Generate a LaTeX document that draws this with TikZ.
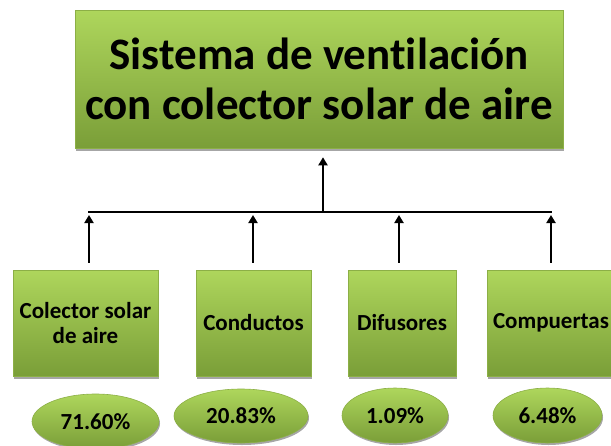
\documentclass[tikz,border=0pt]{standalone}
\usepackage{fontspec}
\setmainfont{Carlito}[Ligatures=NoCommon]
\usepackage{tikz}
\usetikzlibrary{shapes.geometric, arrows.meta, shadows}
\definecolor{grtop}{RGB}{174,214,92}
\definecolor{grbot}{RGB}{122,158,56}
\definecolor{grline}{RGB}{140,175,70}
\definecolor{mydark}{RGB}{0,0,0}
\tikzset{
  block/.style={rectangle, draw=grline, top color=grtop, bottom color=grbot,
    align=center, line width=0.6pt, font=\bfseries\fontsize{23}{25}\selectfont,
    drop shadow={shadow xshift=1pt, shadow yshift=-3pt, opacity=0.35, fill=black}},
  pct/.style={ellipse, draw=grline, top color=grtop, bottom color=grbot,
    inner sep=0pt, line width=0.6pt, font=\bfseries\fontsize{23}{25}\selectfont,
    drop shadow={shadow xshift=1pt, shadow yshift=-2pt, opacity=0.35, fill=black}},
  arrow/.style={-{Triangle[length=8pt, width=9pt]}, line width=2.5pt, color=mydark},
  line/.style={line width=2.5pt, color=mydark}
}

\begin{document}
\begin{tikzpicture}[x=1pt, y=-1pt]
    \clip (0,0) rectangle (611,445);
    \useasboundingbox (0,0) rectangle (611,445);
    % main box
    \node[block, minimum width=488pt, minimum height=138pt,
      font=\bfseries\fontsize{45}{50}\selectfont] (sys) at (319,79)
      {Sistema de ventilación\\con colector solar de aire};
    % parts
    \node[block, minimum width=145pt, minimum height=106pt] (b1) at (85.5,323) {Colector solar\\de aire};
    \node[block, minimum width=115pt, minimum height=106pt] (b2) at (253.5,323) {Conductos};
    \node[block, minimum width=108pt, minimum height=106pt] (b3) at (402,323) {Difusores};
    \node[block, minimum width=128pt, minimum height=106pt] (b4) at (551,323) {Compuertas};
    % shares
    \node[pct, minimum width=127pt, minimum height=55pt] (e1) at (95.5,421.5) {71.60\%};
    \node[pct, minimum width=134pt, minimum height=54pt] (e2) at (241,416) {20.83\%};
    \node[pct, minimum width=106pt, minimum height=55pt] (e3) at (395,415.5) {1.09\%};
    \node[pct, minimum width=109pt, minimum height=55pt] (e4) at (547.5,415.5) {6.48\%};
    % bus
    \coordinate (j1) at (89,212);
    \coordinate (j2) at (253,212);
    \coordinate (j3) at (399,212);
    \coordinate (j4) at (551,212);
    \coordinate (jm) at (323,212);
    \draw[line] ([xshift=-1pt]j1) -- ([xshift=1pt]j4);
    \draw[arrow] (jm) -- ([yshift=-9pt]sys.south -| jm);
    \foreach \i in {1,...,4}
      \draw[arrow] ([yshift=7pt]b\i.north -| j\i) -- ([yshift=-3pt]j\i);
  \end{tikzpicture}
\end{document}
